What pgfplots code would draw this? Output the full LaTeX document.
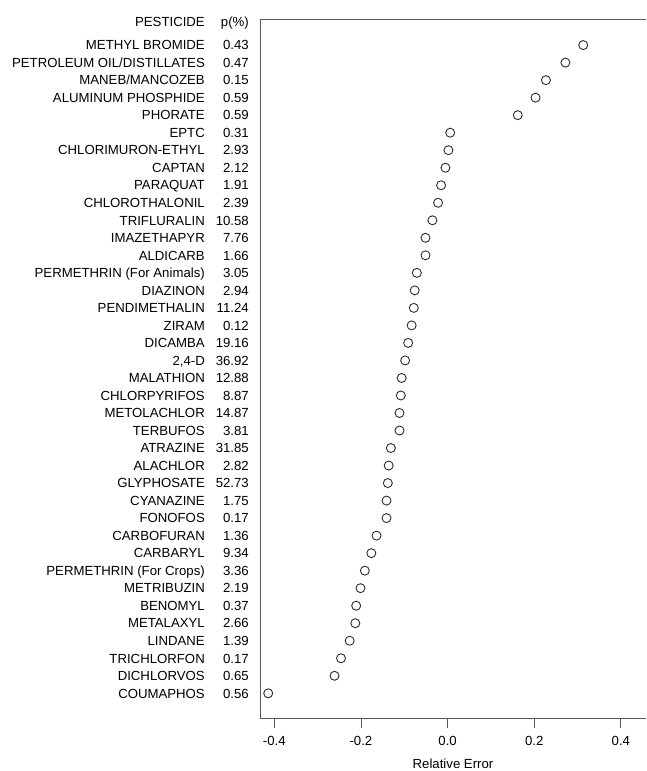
\documentclass[border=0pt]{standalone}
\usepackage{fontspec}
\setmainfont{Liberation Sans}
\usepackage{pgfplots}
\pgfplotsset{compat=1.18}
\definecolor{axisgray}{RGB}{90,90,90}
\definecolor{markgray}{RGB}{45,45,45}
\newcommand{\rw}[2]{\makebox[0pt][r]{#1}\makebox[44pt][r]{#2}}

\begin{document}
\fontsize{13.2}{15}\selectfont
\begin{tikzpicture}
\useasboundingbox (0,0) rectangle (646pt,771pt);
\begin{axis}[
    at={(260pt,53pt)}, anchor=south west,
    scale only axis, width=386pt, height=699pt,
    xmin=-0.433, xmax=0.458,
    ymin=-0.41, ymax=39.49,
    axis x line*=bottom, axis y line*=left,
    axis line style={-, draw=axisgray, line width=0.8pt},
    xtick={-0.4,-0.2,0,0.2,0.4},
    xticklabels={-0.4,-0.2,0.0,0.2,0.4},
    tick align=outside,
    major tick length=10pt,
    xtick style={draw=axisgray, line width=0.8pt},
    ytick={1,...,38},
    ytick style={draw=none},
    yticklabels={
      \rw{COUMAPHOS}{0.56},
      \rw{DICHLORVOS}{0.65},
      \rw{TRICHLORFON}{0.17},
      \rw{LINDANE}{1.39},
      \rw{METALAXYL}{2.66},
      \rw{BENOMYL}{0.37},
      \rw{METRIBUZIN}{2.19},
      \rw{PERMETHRIN (For Crops)}{3.36},
      \rw{CARBARYL}{9.34},
      \rw{CARBOFURAN}{1.36},
      \rw{FONOFOS}{0.17},
      \rw{CYANAZINE}{1.75},
      \rw{GLYPHOSATE}{52.73},
      \rw{ALACHLOR}{2.82},
      \rw{ATRAZINE}{31.85},
      \rw{TERBUFOS}{3.81},
      \rw{METOLACHLOR}{14.87},
      \rw{CHLORPYRIFOS}{8.87},
      \rw{MALATHION}{12.88},
      {\rw{2,4-D}{36.92}},
      \rw{DICAMBA}{19.16},
      \rw{ZIRAM}{0.12},
      \rw{PENDIMETHALIN}{11.24},
      \rw{DIAZINON}{2.94},
      \rw{PERMETHRIN (For Animals)}{3.05},
      \rw{ALDICARB}{1.66},
      \rw{IMAZETHAPYR}{7.76},
      \rw{TRIFLURALIN}{10.58},
      \rw{CHLOROTHALONIL}{2.39},
      \rw{PARAQUAT}{1.91},
      \rw{CAPTAN}{2.12},
      \rw{CHLORIMURON-ETHYL}{2.93},
      \rw{EPTC}{0.31},
      \rw{PHORATE}{0.59},
      \rw{ALUMINUM PHOSPHIDE}{0.59},
      \rw{MANEB/MANCOZEB}{0.15},
      \rw{PETROLEUM OIL/DISTILLATES}{0.47},
      \rw{METHYL BROMIDE}{0.43}
    },
    extra y ticks={39.35},
    extra y tick labels={\rw{PESTICIDE}{p(\%)}},
    extra y tick style={ytick style={draw=none}},
    yticklabel style={anchor=base east, inner sep=0pt, xshift=-1pt, yshift=-0.36em},
    xticklabel style={inner sep=0pt, yshift=-8pt},
    xlabel={Relative Error},
    xlabel style={inner sep=0pt, yshift=-13pt},
    clip=false,
]
\draw[axisgray, line width=0.8pt] (rel axis cs:0,1) -- (rel axis cs:1,1);
\addplot[only marks, mark=o, mark size=4.5pt, mark options={draw=markgray, line width=0.9pt}]
  table[x=x, y=y] {
  y x
  38 0.313
  37 0.272
  36 0.227
  35 0.203
  34 0.162
  33 0.006
  32 0.002
  31 -0.005
  30 -0.015
  29 -0.022
  28 -0.035
  27 -0.051
  26 -0.051
  25 -0.071
  24 -0.076
  23 -0.078
  22 -0.083
  21 -0.091
  20 -0.098
  19 -0.106
  18 -0.108
  17 -0.111
  16 -0.111
  15 -0.131
  14 -0.136
  13 -0.138
  12 -0.141
  11 -0.141
  10 -0.164
  9 -0.176
  8 -0.191
  7 -0.201
  6 -0.211
  5 -0.213
  4 -0.226
  3 -0.246
  2 -0.261
  1 -0.414
  };
\end{axis}
\end{tikzpicture}
\end{document}
